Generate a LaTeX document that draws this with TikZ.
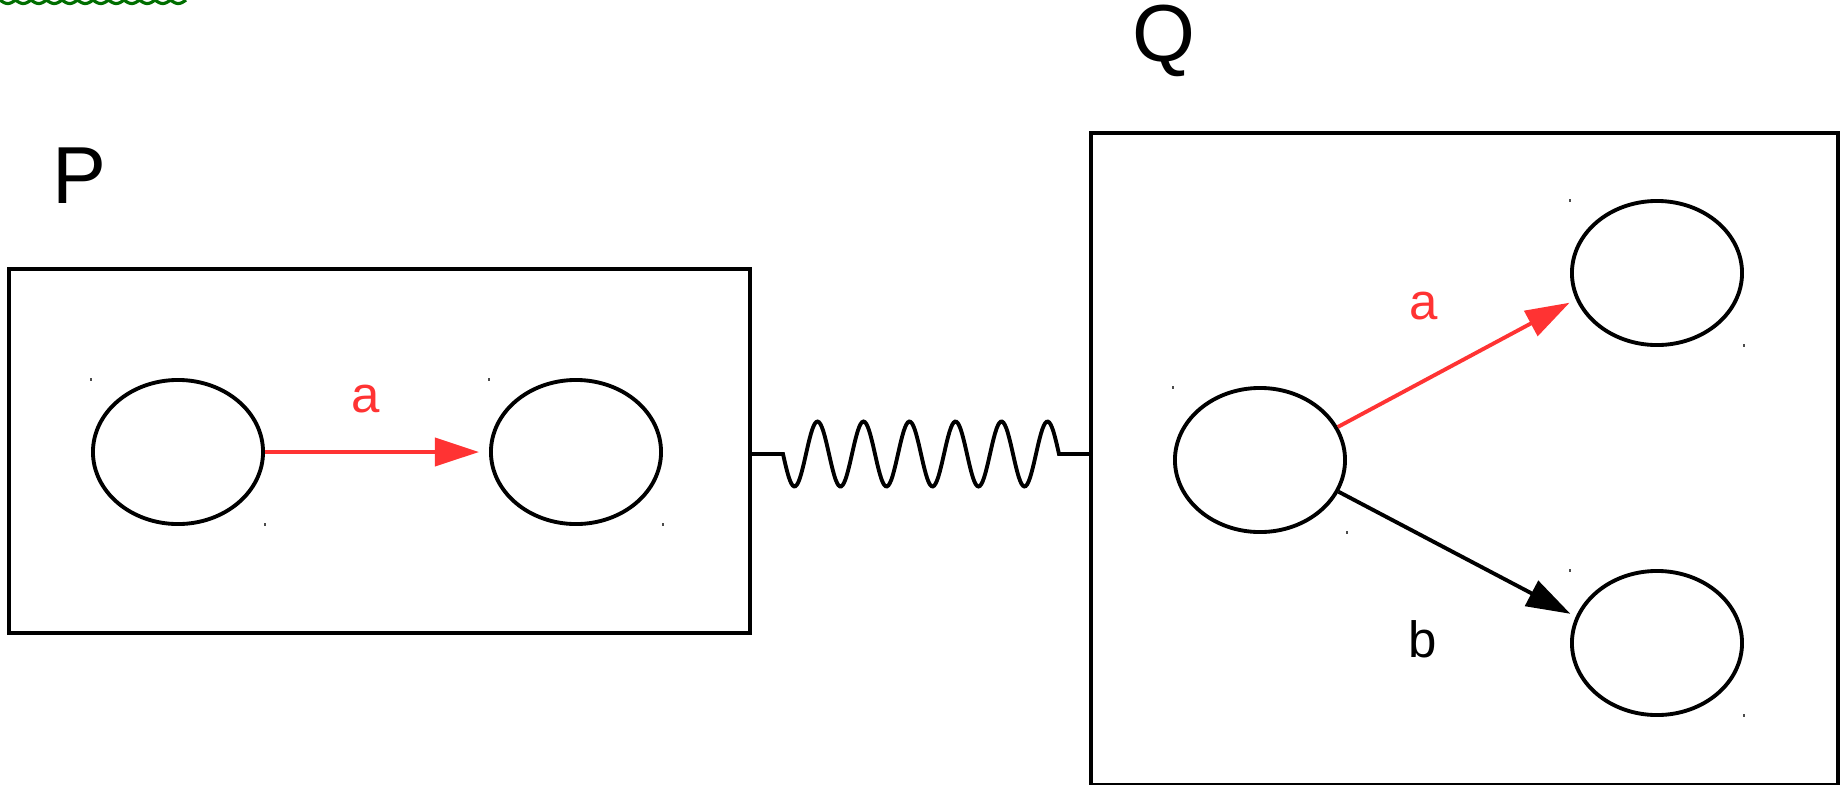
\documentclass[tikz,border=0pt]{standalone}
\usepackage{fontspec}
\setmainfont{Liberation Sans}
\usetikzlibrary{arrows.meta,shapes.geometric}
\definecolor{lblred}{RGB}{255,51,51}
\definecolor{wavegreen}{RGB}{0,110,0}

\begin{document}
\begin{tikzpicture}[x=0.01cm,y=-0.01cm,
    state/.style={draw,ellipse,line width=1.1pt,minimum width=1.70cm,minimum height=1.44cm,inner sep=0pt},
    box/.style={draw,line width=1.1pt,inner sep=0pt},
    trans/.style={line width=1.1pt,-{Triangle[length=0.44cm,width=0.28cm]}},
    lbl/.style={font=\fontsize{14.5}{17}\selectfont,anchor=base,inner sep=0pt},
    big/.style={font=\fontsize{23}{27}\selectfont,anchor=base,inner sep=0pt},
    tickmark/.style={line width=0.35pt,black!70}]
    \useasboundingbox (0,0) rectangle (1844,784);
    % wavy line at the top
    \draw[wavegreen,line width=0.9pt]
        plot[domain=0:186,samples=240] (\x,{3.5*abs(sin(\x/15.5*180))});
    % the two boxes
    \node[box,minimum width=7.41cm,minimum height=3.64cm] (PB) at (379.5,451) {};
    \node[box,minimum width=7.47cm,minimum height=6.52cm] (QB) at (1464.5,459) {};
    \node[big] (lP) at (79,203) {P};
    \node[big] (lQ) at (1164,61) {Q};
    % states
    \node[state] (p1) at (178,452) {};
    \node[state] (p2) at (576,452) {};
    \node[state] (q1) at (1260,460) {};
    \node[state] (q2) at (1657,273) {};
    \node[state] (q3) at (1657,643) {};
    \foreach \s in {p1,p2,q1,q2,q3} {
        \draw[tickmark] (\s.west |- \s.north) -- ++(0,3);
        \draw[tickmark] (\s.east |- \s.south) -- ++(0,-3);
    }
    % transitions
    \draw[trans,lblred,shorten >=0.1cm] (p1.east) -- (p2.west);
    \node[lbl,lblred] (ta) at (366,412) {a};
    \draw[trans,lblred,shorten >=0.07cm] (q1.23.5) -- (q2.198);
    \node[lbl,lblred] (tqa) at (1424,319) {a};
    \draw[trans,black,shorten >=0.06cm] (q1.-22) -- (q3.162);
    \node[lbl] (tqb) at (1423,657) {b};
    % spring between P and Q
    \draw[line width=1.1pt] (PB.east |- 783,454) -- (783,454)
        -- plot[domain=783:1059,samples=200] (\x,{454+32.5*sin((\x-783)/46*360)})
        -- (QB.west |- 1059,454);
\end{tikzpicture}
\end{document}
